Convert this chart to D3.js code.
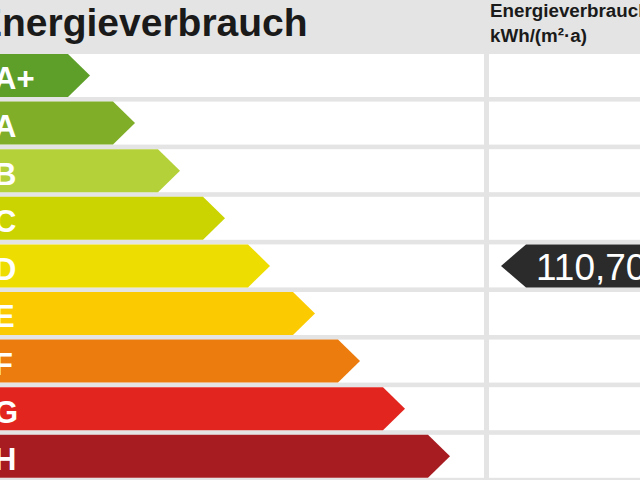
<!DOCTYPE html>
<html>
<head>
<meta charset="utf-8">
<script src="https://cdn.jsdelivr.net/npm/d3@7"></script>
<style>
html,body{margin:0;padding:0;background:#e4e4e4;overflow:hidden;}
svg{display:block;}
</style>
</head>
<body>
<svg id="chart" width="640" height="480"></svg>
<script>
// ---- data ----
const classes = ["A+", "A", "B", "C", "D", "E", "F", "G", "H"];
const classColors = ["#5e9f2a", "#80ae28", "#b4d13a", "#cbd300", "#eedd00", "#fbca00", "#ec7c0d", "#e2261f", "#a71c21"];
const title = "Energieverbrauch";
const columnTitle = ["Energieverbrauch", "kWh/(m²·a)"];
const consumptionValue = 110.70;
const consumptionClass = "D";

// ---- layout ----
const W = 640, H = 480;
const svg = d3.select("#chart");
const font = "'Liberation Sans', Arial, Helvetica, sans-serif";

svg.append("rect").attr("width", W).attr("height", H).attr("fill", "#e4e4e4");

const y = d3.scaleBand().domain(classes).range([51.7, 480.1]).paddingInner(0.0966).paddingOuter(0.0483);
const tipX = d3.scaleLinear().domain([0, classes.length - 1]).range([90, 450]);
const tipDepth = 22;

// white cells
const rows = svg.append("g");
rows.selectAll("rect.l").data(classes).join("rect").attr("class", "l")
  .attr("x", 0).attr("y", d => y(d)).attr("width", 484).attr("height", y.bandwidth()).attr("fill", "#ffffff");
rows.selectAll("rect.r").data(classes).join("rect").attr("class", "r")
  .attr("x", 489).attr("y", d => y(d)).attr("width", W - 489).attr("height", y.bandwidth()).attr("fill", "#ffffff");

// bars (arrows)
const bars = svg.append("g");
bars.selectAll("path").data(classes).join("path")
  .attr("d", (d, i) => {
    const t = y(d), b = t + y.bandwidth(), m = t + y.bandwidth() / 2, tx = tipX(i);
    return `M-5,${t}L${tx - tipDepth},${t}L${tx},${m}L${tx - tipDepth},${b}L-5,${b}Z`;
  })
  .attr("fill", (d, i) => classColors[i]);

bars.selectAll("text").data(classes).join("text")
  .attr("x", -6).attr("y", d => y(d) + 35.5)
  .attr("font-family", font).attr("font-weight", "bold").attr("font-size", 31)
  .attr("fill", "#ffffff").text(d => d);

// header
svg.append("text").attr("x", -24).attr("y", 36)
  .attr("font-family", font).attr("font-weight", "bold").attr("font-size", 39)
  .attr("fill", "#1a1a1a").text(title);

svg.append("g").selectAll("text").data(columnTitle).join("text")
  .attr("x", 490).attr("y", (d, i) => 17 + i * 25)
  .attr("font-family", font).attr("font-weight", "bold").attr("font-size", 18.8)
  .attr("fill", "#1a1a1a").text(d => d);

// value marker
const fmt = d3.formatLocale({decimal: ",", thousands: ".", grouping: [3], currency: ["", " €"]}).format(".2f");
const mt = y(consumptionClass), mb = mt + y.bandwidth(), mm = mt + y.bandwidth() / 2;
svg.append("path")
  .attr("d", `M501,${mm}L526,${mt}L660,${mt}L660,${mb}L526,${mb}Z`)
  .attr("fill", "#2b2b2b");
svg.append("text").attr("x", 536).attr("y", mt + 36)
  .attr("font-family", font).attr("font-size", 37)
  .attr("fill", "#ffffff").text(fmt(consumptionValue));
</script>
</body>
</html>
